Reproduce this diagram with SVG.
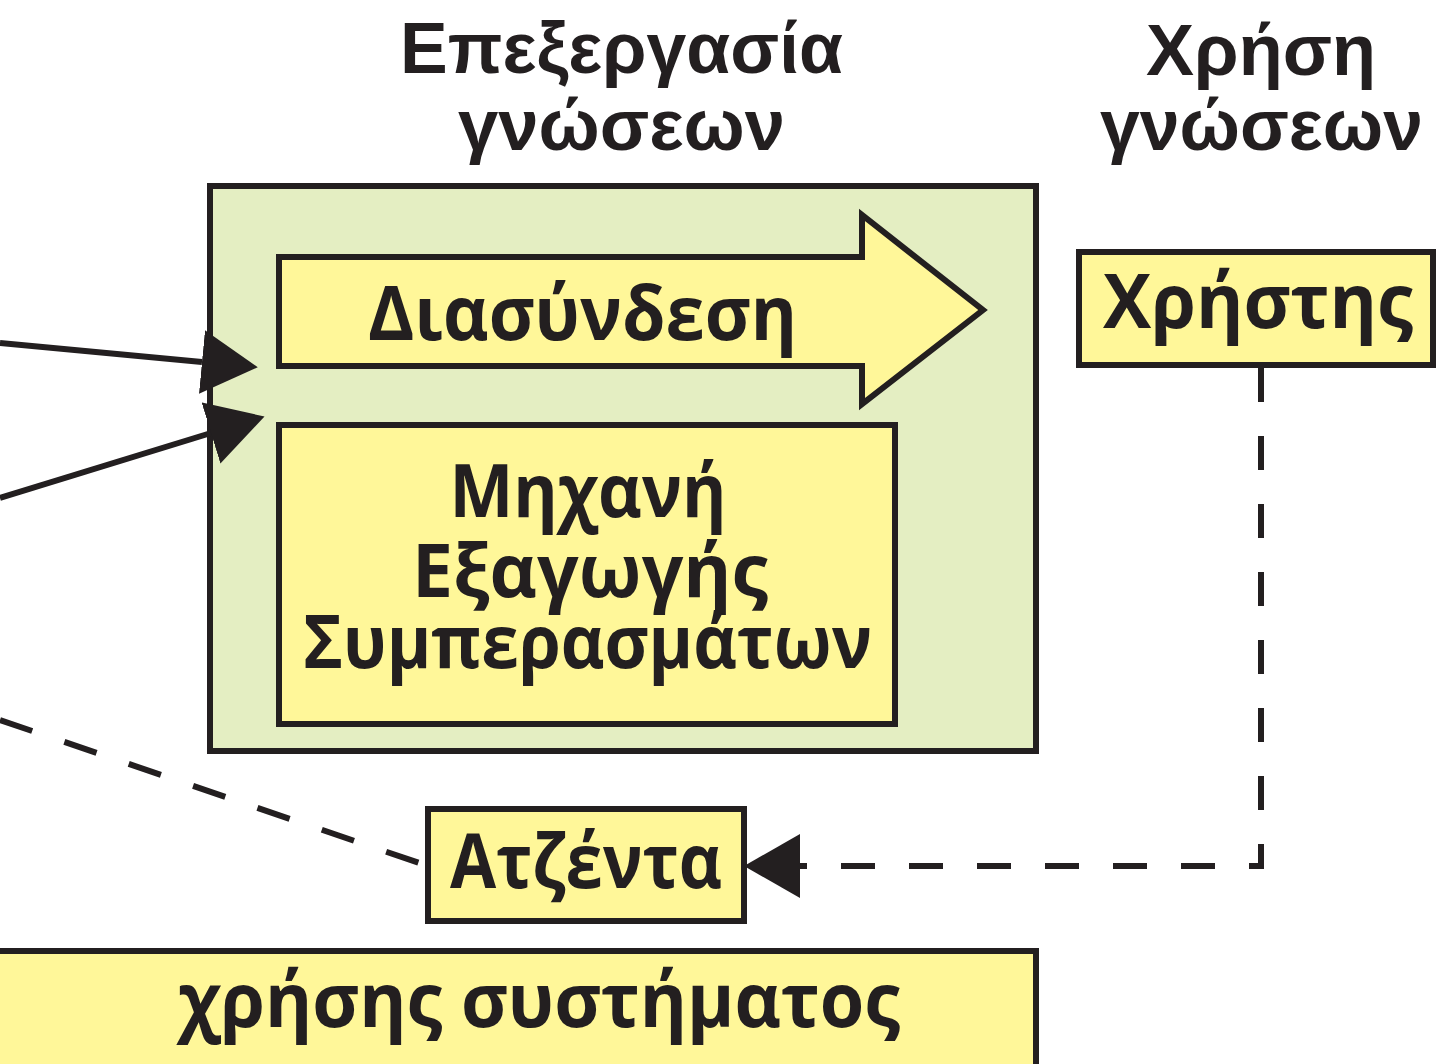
<svg xmlns="http://www.w3.org/2000/svg" width="1440" height="1064" viewBox="0 0 1440 1064">
<style>
.title{font-family:"Liberation Sans",Arial,sans-serif;font-weight:700;font-size:72px;fill:#231F20;text-anchor:middle}
.lbl{font-family:"Open Sans","Noto Sans",sans-serif;font-weight:700;font-size:76px;fill:#231F20;text-anchor:middle}
.eng{font-size:73px}
.yel{fill:#FFF799;stroke:#231F20;stroke-width:6}
.grn{fill:#E4EEC2;stroke:#231F20;stroke-width:6}
.solid{fill:none;stroke:#231F20;stroke-width:6}
.dash{fill:none;stroke:#231F20;stroke-width:6;stroke-dasharray:34 34}
</style>
<defs>
<marker id="ah" markerUnits="userSpaceOnUse" markerWidth="60" markerHeight="66" refX="0" refY="32" orient="auto" viewBox="0 0 60 66">
<path d="M0,0 L56,32 L0,64 Z" fill="#231F20"/>
</marker>
</defs>
<rect width="1440" height="1064" fill="#FFFFFF"/>
<g id="title-processing">
<text class="title" x="621.5" y="73" textLength="443" lengthAdjust="spacingAndGlyphs">Επεξεργασία</text>
<text class="title" x="621.5" y="150" textLength="327" lengthAdjust="spacingAndGlyphs">γνώσεων</text>
</g>
<g id="title-usage">
<text class="title" x="1261" y="75" textLength="230" lengthAdjust="spacingAndGlyphs">Χρήση</text>
<text class="title" x="1261.5" y="150" textLength="323" lengthAdjust="spacingAndGlyphs">γνώσεων</text>
</g>
<g id="processing-box">
<rect class="grn" x="210" y="186" width="826" height="565"/>
</g>
<g id="interface">
<path class="yel" d="M279,257 H862 V215 L983,310 L862,404 V366 H279 Z"/>
<text class="lbl" x="582.5" y="340" textLength="429" lengthAdjust="spacingAndGlyphs">Διασύνδεση</text>
</g>
<g id="inference-engine">
<rect class="yel" x="279" y="425" width="616" height="299"/>
<text class="lbl eng" x="588" y="517" textLength="277" lengthAdjust="spacingAndGlyphs">Μηχανή</text>
<text class="lbl eng" x="590" y="597" textLength="356" lengthAdjust="spacingAndGlyphs">Εξαγωγής</text>
<text class="lbl eng" x="587.5" y="668" textLength="569" lengthAdjust="spacingAndGlyphs">Συμπερασμάτων</text>
</g>
<g id="user">
<rect class="yel" x="1079" y="252" width="354" height="113"/>
<text class="lbl" x="1258" y="328" textLength="310" lengthAdjust="spacingAndGlyphs">Χρήστης</text>
</g>
<g id="agenda">
<rect class="yel" x="428" y="809" width="316" height="112"/>
<text class="lbl" x="586" y="888" textLength="272" lengthAdjust="spacingAndGlyphs">Ατζέντα</text>
</g>
<g id="system-usage">
<rect class="yel" x="-10" y="951" width="1046" height="130"/>
<text class="lbl" x="539" y="1027" textLength="722" lengthAdjust="spacingAndGlyphs">χρήσης συστήματος</text>
</g>
<g id="connectors">
<line class="solid" x1="0" y1="343" x2="202" y2="362" marker-end="url(#ah)"/>
<line class="solid" x1="0" y1="498" x2="211" y2="433" marker-end="url(#ah)"/>
<line class="dash" x1="0" y1="720" x2="428" y2="866" stroke-dasharray="30 26"/>
<path class="dash" d="M1261,368 V866 H800" marker-end="url(#ah)"/>
</g>
</svg>
